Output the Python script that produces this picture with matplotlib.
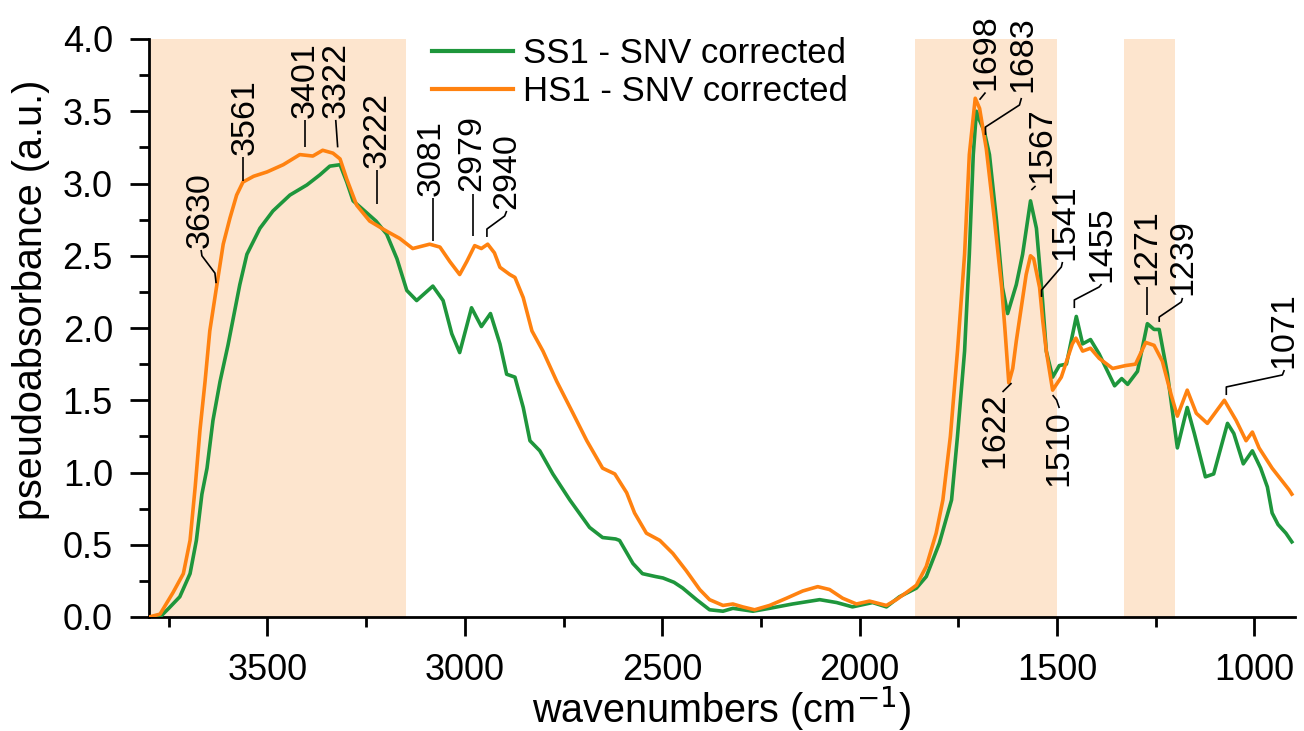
import matplotlib
matplotlib.use("Agg")
import matplotlib.pyplot as plt
from matplotlib.ticker import MultipleLocator, FormatStrFormatter

plt.rcParams['font.family'] = ['Liberation Sans', 'DejaVu Sans']

# ---------------- data ----------------
hs1_wn = [3800, 3772, 3739, 3713, 3696, 3683, 3671, 3658, 3646, 3628, 3612, 3595,
          3578, 3562, 3535, 3501, 3460, 3418, 3385, 3360, 3334, 3316, 3299, 3274,
          3241, 3198, 3165, 3132, 3089, 3063, 3038, 3013, 2995, 2975, 2958, 2942,
          2925, 2911, 2886, 2873, 2852, 2830, 2802, 2767, 2726, 2691, 2651, 2620,
          2590, 2570, 2540, 2506, 2473, 2439, 2405, 2380, 2346, 2321, 2296, 2266,
          2228, 2185, 2144, 2106, 2076, 2043, 2008, 1975, 1932, 1907, 1881, 1856,
          1831, 1806, 1789, 1770, 1752, 1734, 1722, 1707, 1696, 1679, 1658, 1640,
          1632, 1622, 1612, 1603, 1578, 1567, 1559, 1544, 1536, 1527, 1511, 1489,
          1461, 1452, 1435, 1415, 1393, 1359, 1326, 1301, 1275, 1254, 1233, 1211,
          1195, 1170, 1147, 1119, 1076, 1046, 1021, 1005, 988, 955, 912, 905]
hs1_ab = [0.00, 0.02, 0.17, 0.30, 0.53, 0.90, 1.29, 1.63, 1.98, 2.30, 2.58, 2.76,
          2.92, 3.01, 3.05, 3.08, 3.13, 3.20, 3.19, 3.23, 3.21, 3.17, 3.03, 2.85,
          2.74, 2.67, 2.62, 2.55, 2.58, 2.56, 2.46, 2.37, 2.46, 2.57, 2.55, 2.58,
          2.52, 2.42, 2.37, 2.35, 2.21, 1.98, 1.84, 1.63, 1.41, 1.22, 1.03, 0.99,
          0.86, 0.72, 0.58, 0.53, 0.44, 0.32, 0.19, 0.12, 0.08, 0.09, 0.07, 0.05,
          0.08, 0.13, 0.18, 0.21, 0.19, 0.13, 0.09, 0.11, 0.08, 0.12, 0.17, 0.22,
          0.35, 0.58, 0.81, 1.25, 1.84, 2.51, 3.20, 3.59, 3.52, 3.24, 2.74, 2.28,
          2.00, 1.62, 1.72, 1.91, 2.37, 2.50, 2.48, 2.28, 2.05, 1.84, 1.57, 1.66,
          1.89, 1.93, 1.84, 1.86, 1.79, 1.72, 1.74, 1.75, 1.90, 1.88, 1.77, 1.54,
          1.39, 1.57, 1.41, 1.34, 1.50, 1.36, 1.22, 1.28, 1.17, 1.03, 0.88, 0.85]

ss1_wn = [3800, 3772, 3750, 3722, 3696, 3680, 3666, 3653, 3638, 3620, 3600, 3570,
          3552, 3519, 3486, 3443, 3400, 3367, 3342, 3316, 3299, 3283, 3258, 3225,
          3198, 3172, 3147, 3122, 3081, 3055, 3033, 3013, 2983, 2958, 2935, 2911,
          2894, 2873, 2852, 2835, 2810, 2777, 2734, 2684, 2651, 2618, 2608, 2574,
          2550, 2517, 2498, 2470, 2448, 2413, 2380, 2346, 2321, 2270, 2228, 2170,
          2101, 2058, 2018, 1967, 1932, 1899, 1856, 1831, 1798, 1767, 1752, 1734,
          1722, 1712, 1704, 1698, 1684, 1671, 1653, 1638, 1625, 1603, 1587, 1567,
          1552, 1539, 1527, 1511, 1494, 1476, 1451, 1435, 1415, 1393, 1354, 1336,
          1321, 1296, 1271, 1254, 1241, 1220, 1195, 1170, 1152, 1124, 1103, 1068,
          1052, 1028, 1005, 984, 967, 955, 940, 920, 905]
ss1_ab = [0.00, 0.00, 0.06, 0.14, 0.30, 0.53, 0.85, 1.03, 1.36, 1.63, 1.88, 2.30,
          2.51, 2.69, 2.81, 2.92, 2.99, 3.06, 3.12, 3.13, 3.01, 2.88, 2.82, 2.74,
          2.65, 2.48, 2.26, 2.19, 2.29, 2.19, 1.96, 1.83, 2.14, 2.01, 2.10, 1.89,
          1.68, 1.66, 1.45, 1.22, 1.15, 0.99, 0.81, 0.62, 0.55, 0.54, 0.53, 0.37,
          0.30, 0.28, 0.27, 0.24, 0.20, 0.12, 0.05, 0.04, 0.06, 0.04, 0.06, 0.09,
          0.12, 0.10, 0.07, 0.10, 0.07, 0.14, 0.20, 0.28, 0.51, 0.81, 1.25, 1.84,
          2.51, 3.20, 3.50, 3.45, 3.36, 3.20, 2.74, 2.28, 2.10, 2.30, 2.51, 2.88,
          2.69, 2.28, 1.84, 1.66, 1.74, 1.75, 2.08, 1.89, 1.92, 1.82, 1.60, 1.65,
          1.61, 1.70, 2.03, 1.99, 1.99, 1.68, 1.17, 1.45, 1.27, 0.97, 0.99, 1.34,
          1.27, 1.06, 1.15, 1.03, 0.90, 0.72, 0.64, 0.58, 0.52]

series_labels = ["SS1 - SNV corrected", "HS1 - SNV corrected"]
band_ranges = [(3800, 3150), (1860, 1500), (1330, 1200)]

# annotation labels: text, text anchor (wn, A), vertical alignment, leader polyline
annotations = [
    ("3630", (3671, 2.554), 'bottom', [(3630, 2.31), (3633, 2.38), (3666, 2.50), (3668, 2.54)]),
    ("3561", (3557, 3.197), 'bottom', [(3562, 3.02), (3562, 3.18)]),
    ("3401", (3405, 3.453), 'bottom', [(3405, 3.25), (3405, 3.44)]),
    ("3322", (3327, 3.453), 'bottom', [(3322, 3.25), (3327, 3.44)]),
    ("3222", (3223, 3.107), 'bottom', [(3222, 2.86), (3222, 3.09)]),
    ("3081", (3084, 2.913), 'bottom', [(3081, 2.60), (3081, 2.90)]),
    ("2979", (2982, 2.948), 'bottom', [(2979, 2.64), (2979, 2.93)]),
    ("2940", (2894, 2.824), 'bottom', [(2944, 2.63), (2944, 2.685), (2899, 2.775), (2894, 2.81)]),
    ("1698", (1679, 3.647), 'bottom', [(1696, 3.58), (1681, 3.63)]),
    ("1683", (1587, 3.633), 'bottom', [(1681, 3.336), (1681, 3.391), (1595, 3.543), (1590, 3.592)]),
    ("1567", (1539, 3.003), 'bottom', [(1565, 2.955), (1554, 2.983)]),
    ("1541", (1481, 2.471), 'bottom', [(1539, 2.215), (1539, 2.263), (1489, 2.422), (1486, 2.457)]),
    ("1455", (1385, 2.318), 'bottom', [(1456, 2.138), (1456, 2.194), (1393, 2.284), (1387, 2.304)]),
    ("1271", (1273, 2.298), 'bottom', [(1271, 2.09), (1271, 2.284)]),
    ("1239", (1182, 2.228), 'bottom', [(1241, 2.042), (1241, 2.076), (1185, 2.18), (1182, 2.208)]),
    ("1071", (924, 1.723), 'bottom', [(1071, 1.536), (1071, 1.592), (929, 1.675), (924, 1.709)]),
    ("1622", (1658, 1.557), 'top', [(1615, 1.619), (1625, 1.592), (1638, 1.557)]),
    ("1510", (1494, 1.433), 'top', [(1511, 1.536), (1501, 1.502), (1494, 1.446)]),
]

# ---------------- styles ----------------
green = '#1E963C'
orange = '#FF8210'
band_color = '#FDE5CE'

fig = plt.figure(figsize=(13.04, 7.31), dpi=100)
ax = fig.add_axes([149 / 1304, 1 - 617 / 731, (1295 - 149) / 1304, (617 - 39) / 731])

for lo, hi in band_ranges:
    ax.axvspan(lo, hi, color=band_color, lw=0, zorder=0)

ax.plot(ss1_wn, ss1_ab, color=green, lw=2.6, label=series_labels[0], zorder=3,
        solid_joinstyle='round')
ax.plot(hs1_wn, hs1_ab, color=orange, lw=2.6, label=series_labels[1], zorder=4,
        solid_joinstyle='round')

for txt, (tx, ty), va, pts in annotations:
    xs = [p[0] for p in pts]
    ys = [p[1] for p in pts]
    ax.plot(xs, ys, color='black', lw=1.2, zorder=5, solid_capstyle='butt')
    ax.text(tx, ty, txt, rotation=90, ha='center', va=va, fontsize=24.5, zorder=6)

ax.set_xlim(3800, 897)
ax.set_ylim(0, 4.0)
ax.xaxis.set_major_locator(MultipleLocator(500))
ax.xaxis.set_minor_locator(MultipleLocator(250))
ax.yaxis.set_major_locator(MultipleLocator(0.5))
ax.yaxis.set_minor_locator(MultipleLocator(0.25))
ax.yaxis.set_major_formatter(FormatStrFormatter('%.1f'))

for s in ['top', 'right']:
    ax.spines[s].set_visible(False)
for s in ['left', 'bottom']:
    ax.spines[s].set_linewidth(2.0)

ax.tick_params(axis='both', which='major', direction='out', length=14, width=2.0,
               labelsize=26, pad=12)
ax.tick_params(axis='both', which='minor', direction='out', length=7, width=2.0)

fig.text(31 / 1304, 1 - 300 / 731, 'pseudoabsorbance (a.u.)', rotation=90,
         ha='center', va='center', fontsize=28.5)
fig.text(721 / 1304, 1 - 723 / 731, 'wavenumbers (cm$^{-1}$)', ha='center',
         va='baseline', fontsize=28.5)

leg = ax.legend(loc='upper left', bbox_to_anchor=(432 / 1304, 1 - 37 / 731),
                bbox_transform=fig.transFigure, frameon=False, fontsize=25,
                handlelength=2.33, handletextpad=0.29, labelspacing=0.15,
                borderpad=0, borderaxespad=0)
for line in leg.get_lines():
    line.set_linewidth(3.0)

fig.savefig('out.png', dpi=100)
